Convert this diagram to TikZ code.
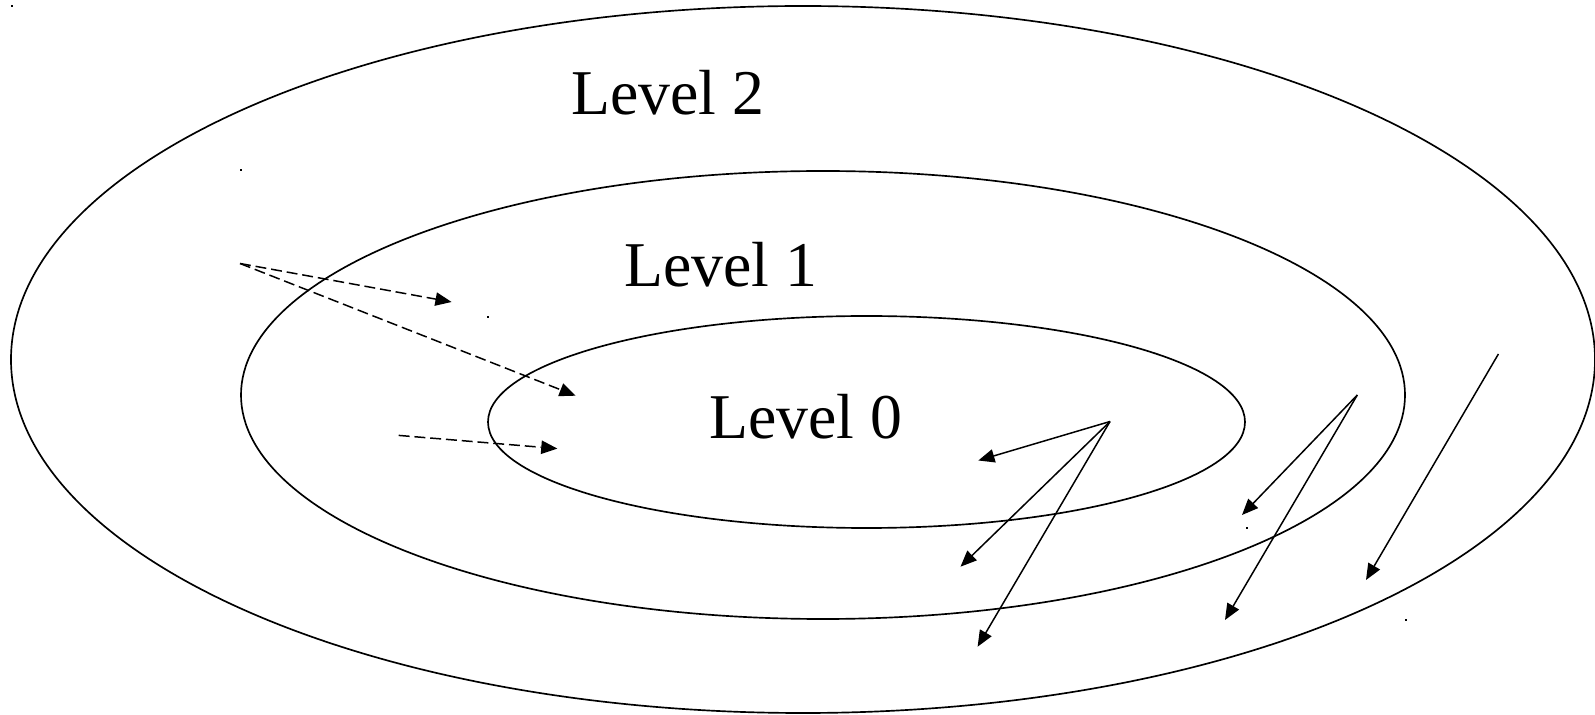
\documentclass[tikz,border=0pt]{standalone}
\usepackage{fontspec}
\setmainfont{Liberation Serif}
\usetikzlibrary{arrows.meta}

\begin{document}
\begin{tikzpicture}[x=0.02cm,y=-0.02cm,>={Triangle[length=9.2pt,width=7.6pt]}]
\tikzstyle{lvl}=[anchor=base,inner sep=0pt,font=\fontsize{36.3}{43}\selectfont]
\tikzstyle{ring}=[line width=0.95pt]
\tikzstyle{flow}=[->,line width=0.85pt]
\tikzstyle{back}=[flow,dash pattern=on 6.2pt off 2.8pt]
\tikzstyle{speck}=[fill=black]
\useasboundingbox (0,0) rectangle (1595,715);
\draw[ring] (803,359.5) ellipse [x radius=792,y radius=353.5];
\draw[ring] (823,395) ellipse [x radius=582,y radius=224];
\draw[ring] (866.5,422) ellipse [x radius=378.5,y radius=106];
\node[lvl] (l2) at (668,115) {Level 2};
\node[lvl] (l1) at (720.7,287) {Level 1};
\node[lvl] (l0) at (805.6,438.5) {Level 0};
\fill[speck] (11,5) rectangle (13,7);
\fill[speck] (240,169) rectangle (242,171);
\fill[speck] (487,316) rectangle (489,318);
\fill[speck] (1246,527) rectangle (1248,529);
\fill[speck] (1405,619) rectangle (1407,621);
\coordinate (d0) at (240,263.5);
\coordinate (d1) at (451.6,302);
\coordinate (d2) at (575.7,395.7);
\coordinate (d3) at (398.7,435.4);
\coordinate (d4) at (557.4,448.6);
\draw[back] (d0) -- (d1);
\draw[back] (d0) -- (d2);
\draw[back] (d3) -- (d4);
\coordinate (s0) at (1110,421.5);
\coordinate (s1) at (978.3,460.5);
\coordinate (s2) at (960.5,566.7);
\coordinate (s3) at (977.6,646.7);
\coordinate (m0) at (1357.3,395);
\coordinate (m1) at (1242,515);
\coordinate (m2) at (1225,620);
\coordinate (o0) at (1498.4,354);
\coordinate (o1) at (1366,580);
\draw[flow] (s0) -- (s1);
\draw[flow] (s0) -- (s2);
\draw[flow] (s0) -- (s3);
\draw[flow] (m0) -- (m1);
\draw[flow] (m0) -- (m2);
\draw[flow] (o0) -- (o1);
\end{tikzpicture}
\end{document}
